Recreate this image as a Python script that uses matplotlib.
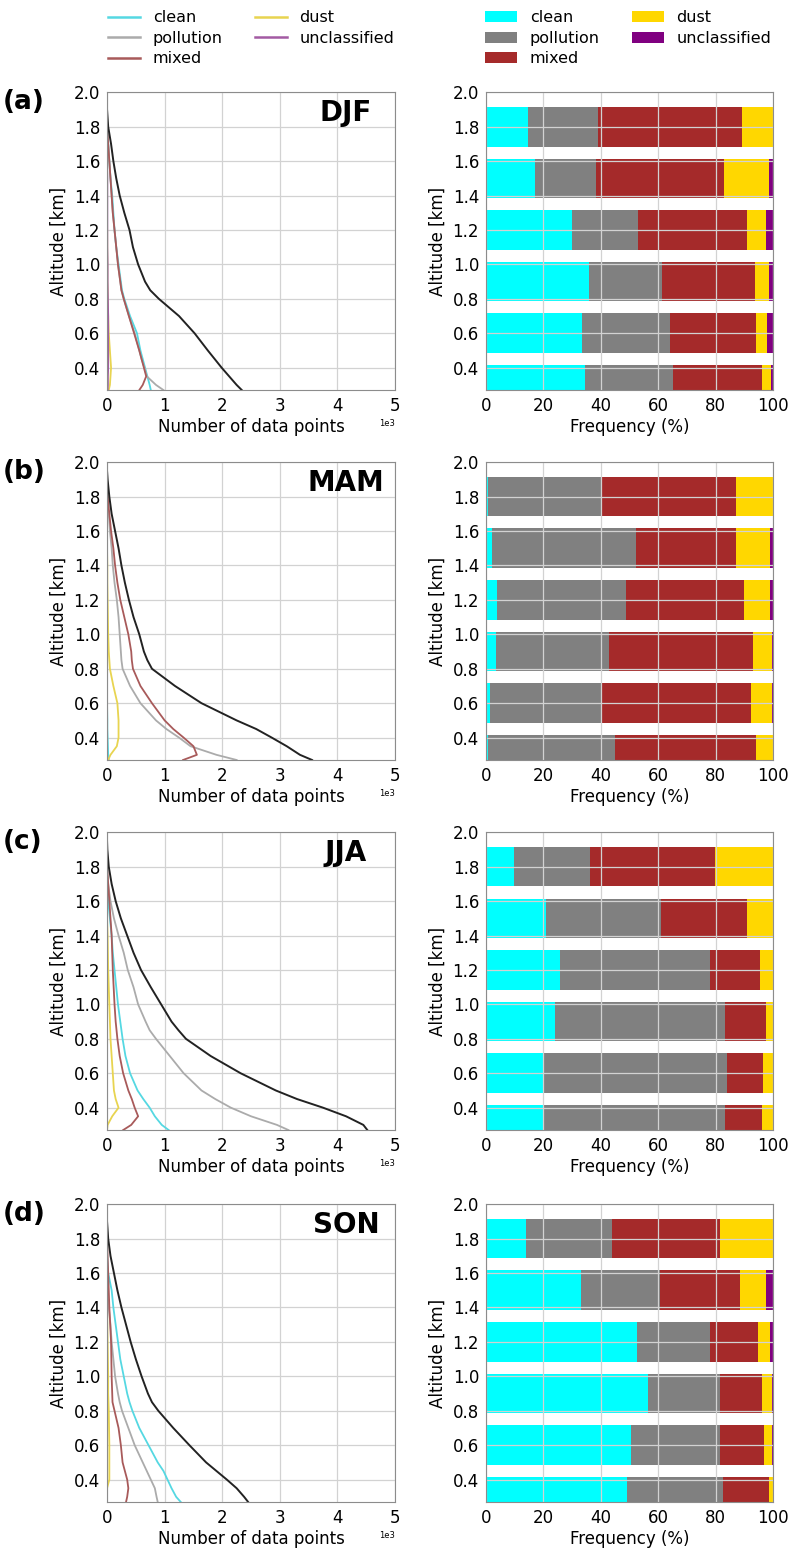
import numpy as np
import matplotlib
matplotlib.use('Agg')
import matplotlib.pyplot as plt
from matplotlib.lines import Line2D
from matplotlib.patches import Patch

plt.rcParams['font.family'] = ['DejaVu Sans']

seasons = ['DJF', 'MAM', 'JJA', 'SON']
panel_tags = ['(a)', '(b)', '(c)', '(d)']
classes = ['clean', 'pollution', 'mixed', 'dust', 'unclassified']

# altitude grid (km) of the profiles
alt = [0.27, 0.30, 0.35, 0.40, 0.45, 0.50, 0.60, 0.70, 0.80, 0.85, 0.90,
       1.00, 1.10, 1.20, 1.30, 1.40, 1.50, 1.60, 1.70, 1.80, 1.90, 1.95]

# number of data points per altitude
djf_total = [2340, 2250, 2120, 1990, 1870, 1750, 1520, 1250, 900, 750, 660, 540, 450, 390, 300, 220, 160, 110, 70, 20, 0, 0]
djf_clean = [760, 740, 700, 660, 620, 580, 520, 400, 300, 260, 240, 200, 160, 130, 110, 90, 60, 40, 20, 0, 0, 0]
djf_pollution = [980, 850, 690, 650, 600, 560, 480, 380, 290, 250, 230, 190, 160, 130, 100, 80, 60, 40, 20, 0, 0, 0]
djf_mixed = [560, 620, 680, 640, 600, 560, 470, 380, 290, 250, 230, 190, 160, 130, 100, 80, 60, 40, 20, 0, 0, 0]
djf_dust = [30, 50, 60, 70, 60, 50, 30, 20, 10, 10, 5, 5, 3, 2, 0, 0, 0, 0, 0, 0, 0, 0]
djf_unclass = [10, 15, 15, 20, 20, 20, 20, 20, 15, 12, 10, 10, 5, 5, 5, 5, 5, 0, 0, 0, 0, 0]

mam_total = [3560, 3350, 3120, 2860, 2590, 2250, 1640, 1180, 780, 700, 640, 560, 460, 380, 310, 250, 200, 140, 80, 40, 10, 0]
mam_clean = [30, 20, 15, 10, 5, 5, 0, 0, 0, 0, 0, 0, 0, 0, 0, 0, 0, 0, 0, 0, 0, 0]
mam_pollution = [2250, 1900, 1450, 1250, 1030, 850, 580, 400, 270, 250, 240, 220, 200, 170, 130, 100, 80, 50, 30, 10, 0, 0]
mam_mixed = [1320, 1560, 1500, 1330, 1150, 1000, 780, 580, 450, 430, 420, 370, 300, 230, 180, 140, 110, 70, 40, 10, 0, 0]
mam_dust = [20, 60, 170, 200, 200, 200, 180, 110, 50, 40, 30, 20, 15, 10, 5, 5, 0, 0, 0, 0, 0, 0]
mam_unclass = [0, 0, 0, 0, 0, 0, 0, 0, 0, 0, 0, 0, 0, 0, 0, 0, 0, 0, 0, 0, 0, 0]

jja_total = [4520, 4450, 4150, 3750, 3300, 2930, 2320, 1800, 1370, 1240, 1120, 940, 760, 590, 460, 350, 240, 150, 80, 30, 5, 0]
jja_clean = [1070, 950, 830, 740, 630, 530, 400, 320, 270, 250, 230, 190, 160, 130, 100, 80, 50, 20, 0, 0, 0, 0]
jja_pollution = [3150, 2950, 2500, 2150, 1880, 1640, 1330, 1090, 850, 740, 670, 540, 460, 360, 290, 200, 120, 60, 20, 0, 0, 0]
jja_mixed = [280, 420, 540, 480, 430, 370, 280, 220, 180, 165, 150, 130, 115, 100, 90, 80, 60, 40, 20, 0, 0, 0]
jja_dust = [0, 10, 90, 200, 150, 120, 100, 80, 60, 55, 50, 40, 30, 20, 15, 10, 0, 0, 0, 0, 0, 0]
jja_unclass = [0, 0, 0, 0, 0, 0, 0, 0, 0, 0, 0, 0, 0, 0, 0, 0, 0, 0, 0, 0, 0, 0]

son_total = [2450, 2380, 2250, 2080, 1900, 1720, 1430, 1150, 890, 780, 710, 600, 500, 410, 330, 250, 180, 120, 60, 20, 0, 0]
son_clean = [1280, 1200, 1120, 1050, 980, 880, 720, 560, 440, 390, 350, 290, 230, 190, 150, 110, 80, 20, 0, 0, 0, 0]
son_pollution = [880, 860, 830, 760, 690, 620, 480, 370, 260, 220, 190, 140, 110, 80, 60, 30, 0, 0, 0, 0, 0, 0]
son_mixed = [330, 350, 370, 350, 310, 270, 240, 200, 130, 95, 90, 80, 75, 70, 55, 40, 30, 20, 10, 0, 0, 0]
son_dust = [0, 0, 0, 40, 40, 40, 40, 35, 30, 25, 20, 20, 15, 10, 5, 0, 0, 0, 0, 0, 0, 0]
son_unclass = [0, 0, 0, 0, 0, 0, 0, 0, 0, 0, 0, 0, 0, 0, 0, 0, 0, 0, 0, 0, 0, 0]

# frequency (%) per altitude bin
bin_alt = [0.3, 0.6, 0.9, 1.2, 1.5, 1.8]
djf_freq_clean = [34.4, 33.3, 35.8, 29.9, 16.9, 14.5]
djf_freq_pollution = [30.9, 30.8, 25.5, 23.0, 21.4, 24.5]
djf_freq_mixed = [30.9, 29.9, 32.4, 38.0, 44.7, 50.2]
djf_freq_dust = [3.1, 3.9, 4.8, 6.7, 15.7, 10.8]
djf_freq_unclass = [0.7, 2.1, 1.5, 2.4, 1.3, 0.0]

mam_freq_clean = [0.8, 1.4, 3.6, 3.8, 2.2, 0.7]
mam_freq_pollution = [44.1, 38.5, 39.3, 44.8, 50.1, 39.6]
mam_freq_mixed = [49.2, 52.3, 50.2, 41.4, 34.9, 46.9]
mam_freq_dust = [5.9, 7.5, 6.6, 9.1, 11.9, 12.8]
mam_freq_unclass = [0.0, 0.3, 0.3, 0.9, 0.9, 0.0]

jja_freq_clean = [20.2, 20.2, 24.2, 25.8, 20.9, 9.7]
jja_freq_pollution = [63.1, 63.9, 59.1, 52.1, 40.0, 26.6]
jja_freq_mixed = [12.9, 12.4, 14.3, 17.4, 30.1, 43.6]
jja_freq_dust = [3.8, 3.5, 2.4, 4.7, 9.0, 20.1]
jja_freq_unclass = [0.0, 0.0, 0.0, 0.0, 0.0, 0.0]

son_freq_clean = [49.1, 50.6, 56.3, 52.6, 33.0, 14.0]
son_freq_pollution = [33.5, 30.8, 25.1, 25.3, 27.5, 30.0]
son_freq_mixed = [15.9, 15.5, 14.6, 16.8, 28.1, 37.4]
son_freq_dust = [1.5, 2.8, 3.7, 4.1, 9.0, 18.6]
son_freq_unclass = [0.0, 0.3, 0.3, 1.2, 2.4, 0.0]

profiles = {
    'DJF': [djf_clean, djf_pollution, djf_mixed, djf_dust, djf_unclass, djf_total],
    'MAM': [mam_clean, mam_pollution, mam_mixed, mam_dust, mam_unclass, mam_total],
    'JJA': [jja_clean, jja_pollution, jja_mixed, jja_dust, jja_unclass, jja_total],
    'SON': [son_clean, son_pollution, son_mixed, son_dust, son_unclass, son_total],
}
freqs = {
    'DJF': [djf_freq_clean, djf_freq_pollution, djf_freq_mixed, djf_freq_dust, djf_freq_unclass],
    'MAM': [mam_freq_clean, mam_freq_pollution, mam_freq_mixed, mam_freq_dust, mam_freq_unclass],
    'JJA': [jja_freq_clean, jja_freq_pollution, jja_freq_mixed, jja_freq_dust, jja_freq_unclass],
    'SON': [son_freq_clean, son_freq_pollution, son_freq_mixed, son_freq_dust, son_freq_unclass],
}

line_colors = ['#55d8e2', '#ababab', '#a85a5a', '#e8d450', '#a35aa3']
bar_colors = ['cyan', 'gray', 'brown', 'gold', 'purple']
spine_col = '#8c8c8c'


def style_axis(ax):
    ax.set_ylim(0.27, 2.0)
    ax.set_yticks(np.arange(0.4, 2.01, 0.2))
    ax.grid(True, color='#d2d2d2', linewidth=0.9)
    ax.tick_params(labelsize=12, length=0, pad=5)
    for s in ax.spines.values():
        s.set_color(spine_col)
    ax.set_ylabel('Altitude [km]', fontsize=12, labelpad=4)


def profile_panel(ax, season):
    data = profiles[season]
    for vals, c in zip(data[:5], line_colors):
        ax.plot(vals, alt, color=c, lw=1.3)
    ax.plot(data[5], alt, color='#222222', lw=1.4)
    style_axis(ax)
    ax.set_xlim(0, 5000)
    ax.set_xticks(np.arange(0, 5001, 1000))
    ax.ticklabel_format(axis='x', style='sci', scilimits=(0, 0))
    ax.xaxis.get_offset_text().set_fontsize(6)
    ax.set_xlabel('Number of data points', fontsize=12, labelpad=2)
    ax.text(0.83, 0.93, season, transform=ax.transAxes, fontsize=20,
            fontweight='bold', ha='center', va='center')


def freq_panel(ax, season):
    data = freqs[season]
    left = np.zeros(len(bin_alt))
    for vals, c in zip(data, bar_colors):
        ax.barh(bin_alt, vals, height=0.23, left=left, color=c, zorder=1)
        left = left + np.array(vals)
    style_axis(ax)
    ax.set_xlim(0, 100)
    ax.set_xticks(np.arange(0, 101, 20))
    ax.set_xlabel('Frequency (%)', fontsize=12, labelpad=2)


fig = plt.figure(figsize=(7.94, 15.51), dpi=100)

row_bottoms = [0.7485, 0.510, 0.2714, 0.0316]
for i, season in enumerate(seasons):
    ax1 = fig.add_axes([0.1348, row_bottoms[i], 0.3627, 0.192])
    ax2 = fig.add_axes([0.6121, row_bottoms[i], 0.3615, 0.192])
    profile_panel(ax1, season)
    freq_panel(ax2, season)
    fig.text(0.003, row_bottoms[i] + 0.192 - 0.006, panel_tags[i],
             fontsize=19, fontweight='bold', ha='left', va='center')

line_handles = [Line2D([], [], color=c, lw=1.8) for c in line_colors]
bar_handles = [Patch(facecolor=c) for c in bar_colors]
fig.legend(line_handles, classes, ncol=2, frameon=False, fontsize=11.5,
           loc='upper left', bbox_to_anchor=(0.128, 0.9975),
           borderaxespad=0, labelspacing=0.35, handlelength=2.0)
fig.legend(bar_handles, classes, ncol=2, frameon=False, fontsize=11.5,
           loc='upper left', bbox_to_anchor=(0.603, 0.9975),
           borderaxespad=0, labelspacing=0.35, handlelength=2.0)

plt.savefig('out.png', dpi=100)
